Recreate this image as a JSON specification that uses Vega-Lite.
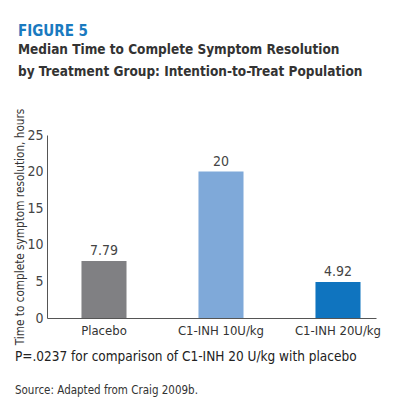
{
  "$schema": "https://vega.github.io/schema/vega-lite/v6.json",
  "background": "white",
  "padding": {"left": 14, "top": 23, "right": 22, "bottom": 10},
  "config": {
    "font": "DejaVu Sans Condensed, Roboto, sans-serif",
    "view": {"stroke": null},
    "concat": {"spacing": 0}
  },
  "title": {
    "text": "P=.0237 for comparison of C1-INH 20 U/kg with placebo",
    "subtitle": "Source: Adapted from Craig 2009b.",
    "orient": "bottom",
    "anchor": "start",
    "frame": "bounds",
    "dx": 0,
    "fontSize": 13.5,
    "fontWeight": "normal",
    "color": "#222",
    "subtitleFontSize": 11.5,
    "subtitleColor": "#333",
    "subtitlePadding": 22,
    "offset": 5
  },
  "vconcat": [
    {
      "width": 329,
      "height": 183,
      "title": {
        "text": "FIGURE 5",
        "subtitle": ["Median Time to Complete Symptom Resolution", "by Treatment Group: Intention-to-Treat Population"],
        "anchor": "start",
        "frame": "bounds",
        "dx": 3,
        "color": "#1a7abf",
        "fontSize": 15,
        "fontWeight": "bold",
        "subtitleFontSize": 13.5,
        "subtitleFontWeight": "bold",
        "subtitleColor": "#333",
        "subtitlePadding": 4,
        "subtitleLineHeight": 22,
        "offset": 30
      },
      "data": {
        "values": [
          {"group": "Placebo", "hours": 7.79, "label": "7.79"},
          {"group": "C1-INH 10U/kg", "hours": 20, "label": "20"},
          {"group": "C1-INH 20U/kg", "hours": 4.92, "label": "4.92"}
        ]
      },
      "encoding": {
        "x": {
          "field": "group",
          "type": "nominal",
          "sort": null,
          "scale": {"paddingInner": 0.615, "paddingOuter": 0.2135, "align": 0.69},
          "axis": {
            "title": null,
            "labelAngle": 0,
            "ticks": false,
            "labelFontSize": 13,
            "labelColor": "#333",
            "labelPadding": 6,
            "domainColor": "#555"
          }
        },
        "y": {
          "field": "hours",
          "type": "quantitative",
          "scale": {"domain": [0, 25]},
          "axis": {
            "title": "Time to complete symptom resolution, hours",
            "titleFontSize": 11.7,
            "titleFontWeight": "normal",
            "titleColor": "#333",
            "titlePadding": 1,
            "values": [0, 5, 10, 15, 20, 25],
            "grid": false,
            "ticks": false,
            "labelFontSize": 14,
            "labelColor": "#444",
            "labelPadding": 4,
            "domainColor": "#555"
          }
        }
      },
      "layer": [
        {
          "mark": {"type": "bar"},
          "encoding": {
            "color": {
              "field": "group",
              "type": "nominal",
              "sort": null,
              "scale": {"range": ["#808083", "#7fa9d9", "#0f74bf"]},
              "legend": null
            }
          }
        },
        {
          "mark": {"type": "text", "baseline": "bottom", "dy": -3, "fontSize": 14, "color": "#444"},
          "encoding": {"text": {"field": "label"}}
        }
      ]
    }
  ]
}
